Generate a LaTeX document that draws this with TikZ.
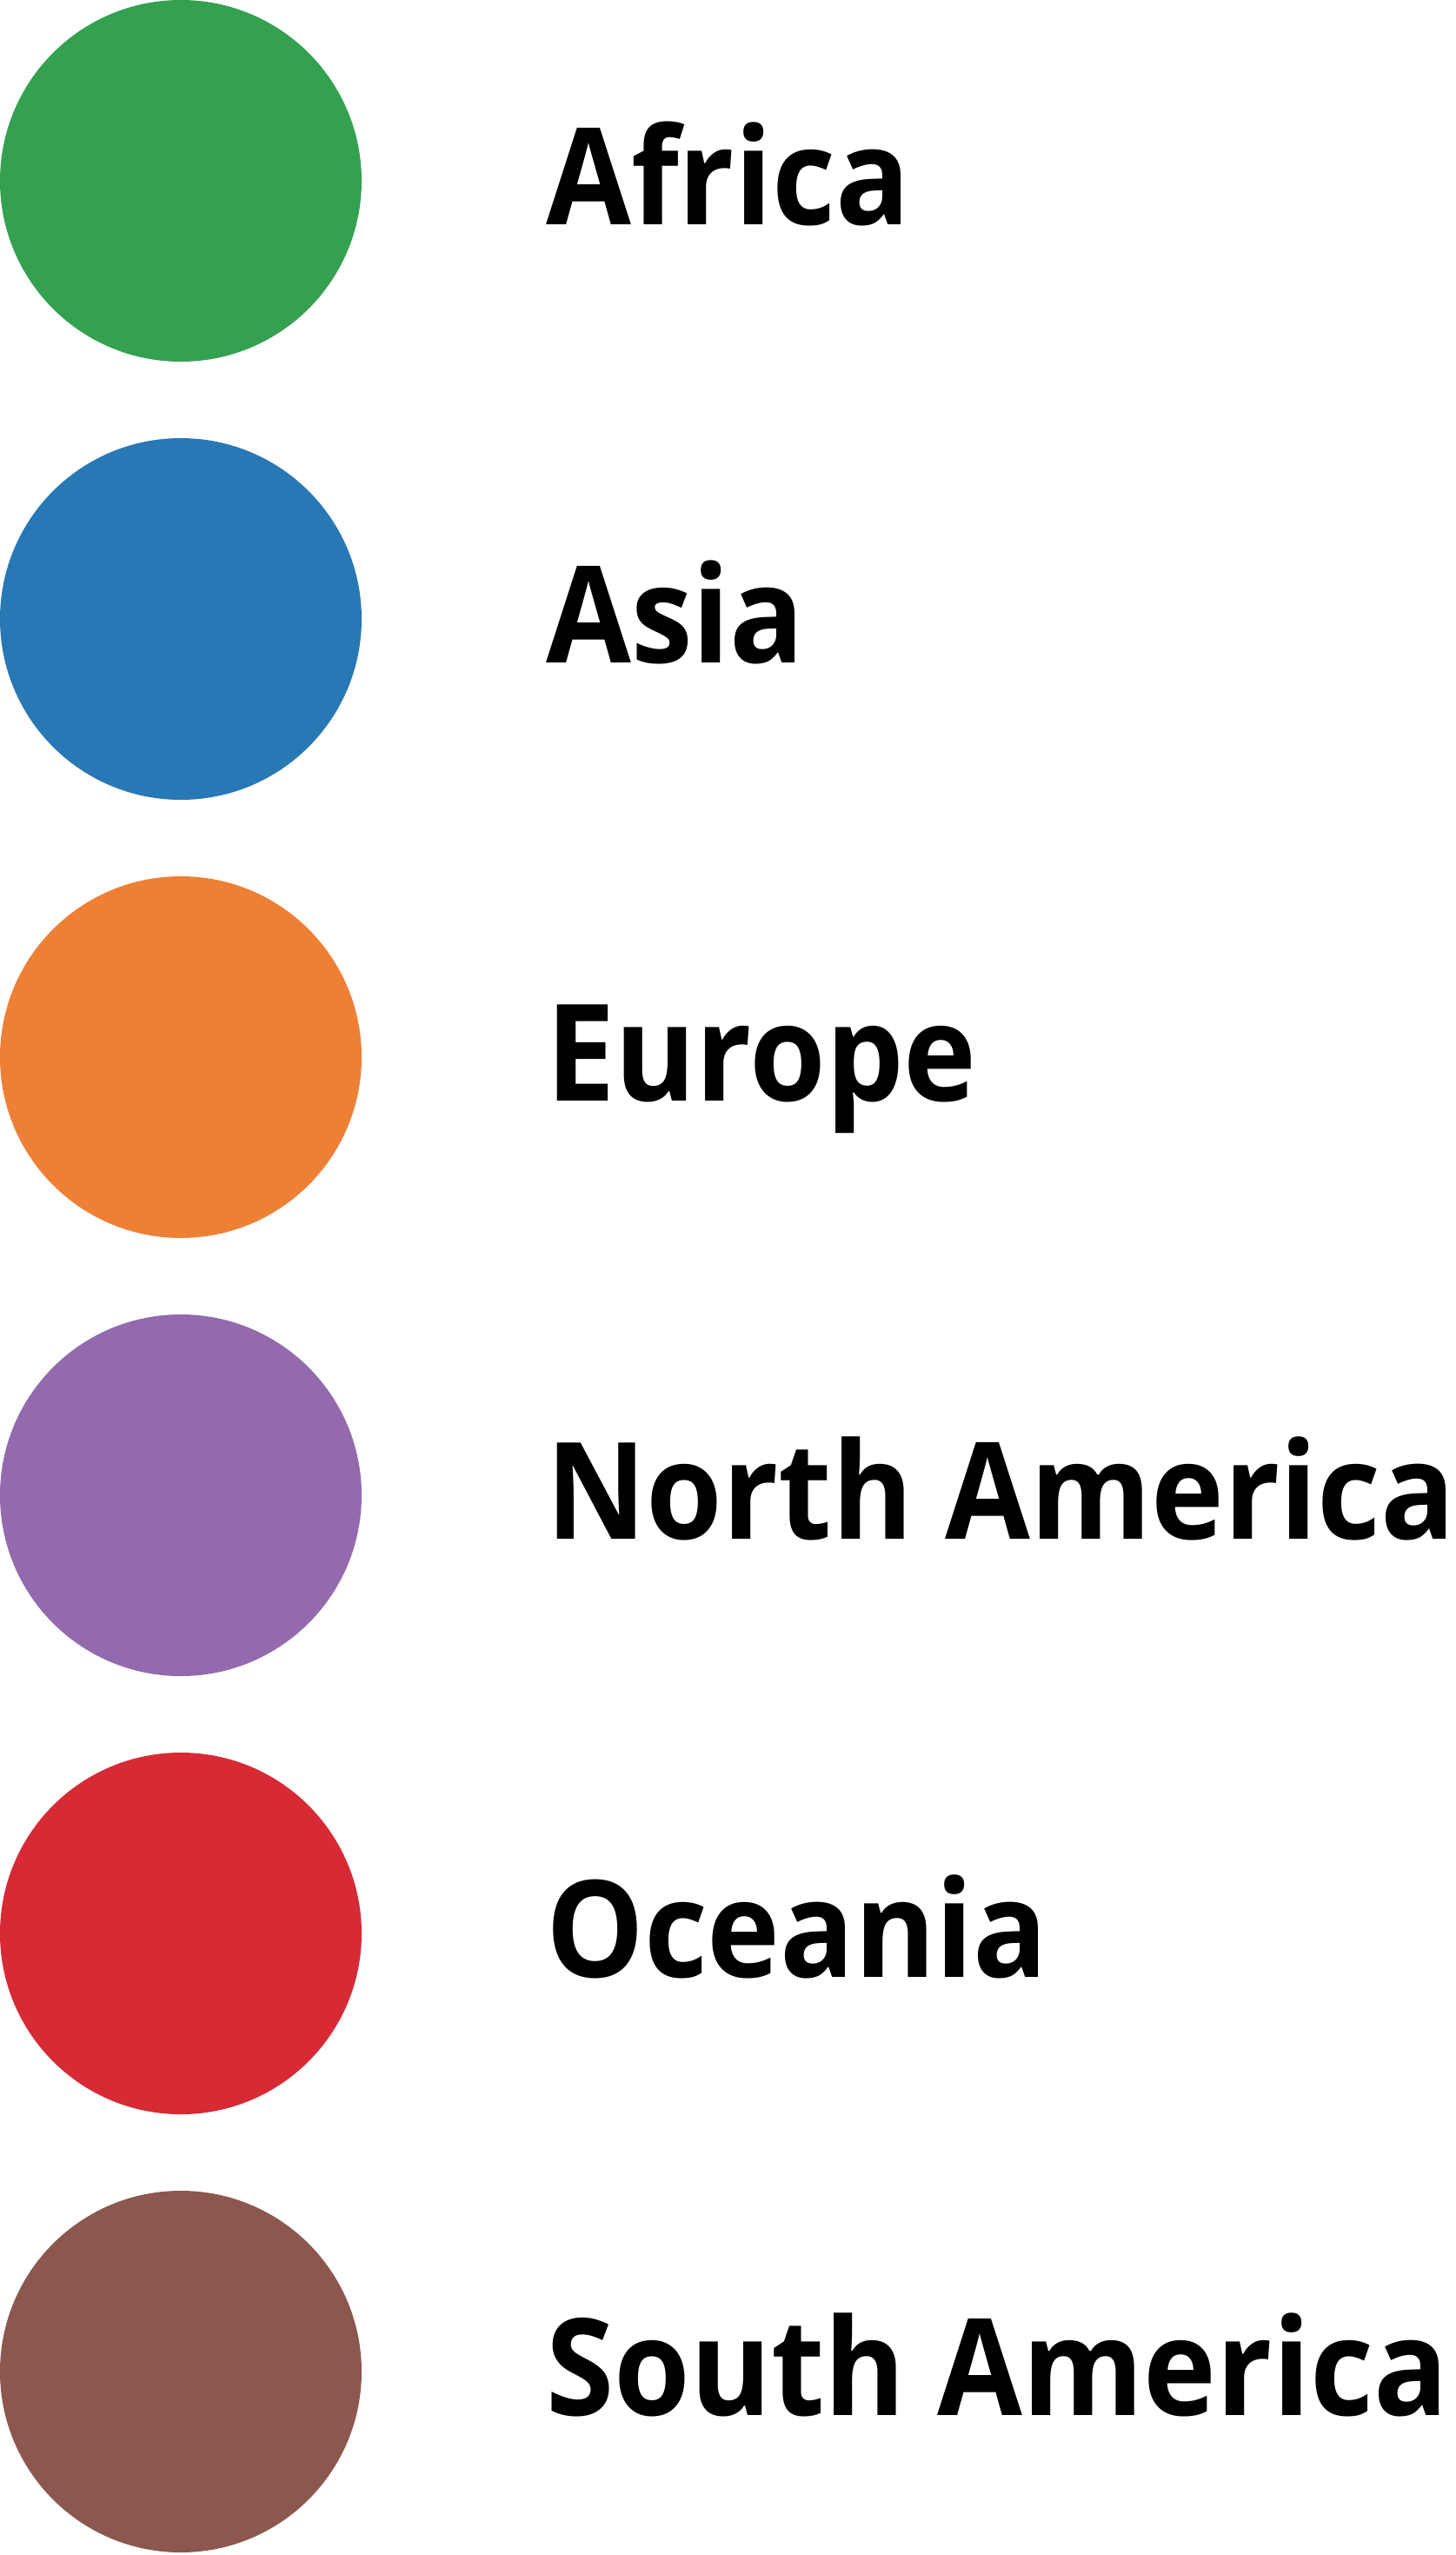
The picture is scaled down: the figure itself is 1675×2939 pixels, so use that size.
\documentclass[tikz,border=0pt]{standalone}
\usepackage{graphicx}
\usepackage{fontspec}
\setmainfont{Open Sans}
\definecolor{cafrica}{HTML}{34A150}
\definecolor{casia}{HTML}{2878B5}
\definecolor{ceurope}{HTML}{EE8036}
\definecolor{cnam}{HTML}{946AAE}
\definecolor{coceania}{HTML}{D72A35}
\definecolor{csam}{HTML}{8C574E}
\begin{document}
\begin{tikzpicture}[x=1pt,y=-1pt,
  dot/.style={circle,draw=none,inner sep=0pt,minimum size=416pt},
  lab/.style={anchor=base west,inner sep=0pt,font=\fontsize{155}{155}\selectfont\bfseries}]
\useasboundingbox (0,0) rectangle (1675,2939);
\foreach \i/\c/\t [count=\k from 0] in {africa/cafrica/Africa,asia/casia/Asia,europe/ceurope/Europe,nam/cnam/North America,oceania/coceania/Oceania,sam/csam/South America}{
  \node[dot,fill=\c] (c\i) at (208,208+504*\k) {};
  \node[lab] (t\i) at (628,258+504*\k) {\scalebox{0.915}[1]{\t}};
}
\end{tikzpicture}
\end{document}
